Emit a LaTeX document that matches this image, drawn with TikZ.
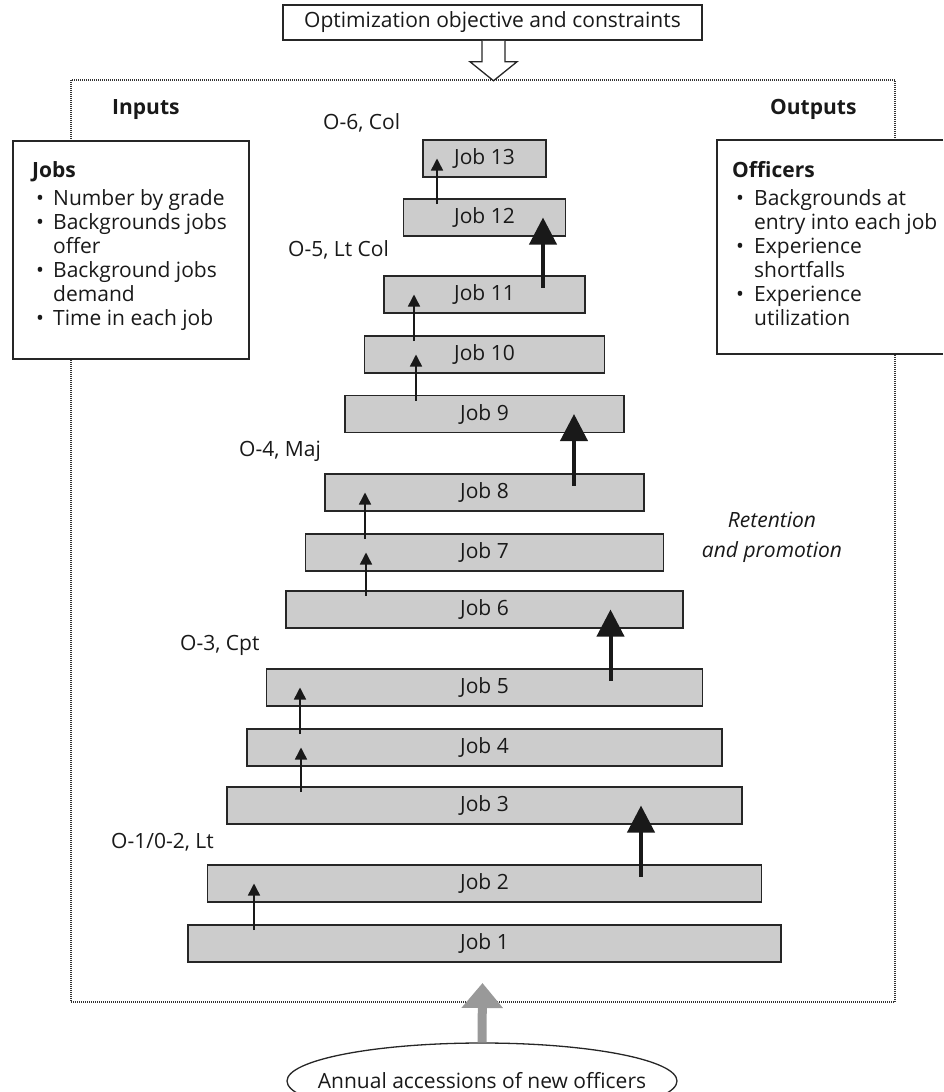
\documentclass[tikz,border=0pt]{standalone}
\usepackage{fontspec}
\setmainfont{Open Sans}
\usetikzlibrary{arrows.meta,shapes.geometric,calc}
\newcommand\dgsize{\fontsize{21}{24}\selectfont}
\newcommand\bigbul{•}
\begin{document}
\begin{tikzpicture}[x=1pt,y=-1pt,
  font=\dgsize,
  every node/.style={text=black!90},
  jobbox/.style={draw=black!85, line width=1.6pt, fill=black!20, minimum height=37pt, inner sep=0pt},
  grade/.style={anchor=base west, inner sep=0pt, font=\dgsize},
  head/.style={anchor=base west, inner sep=0pt, font=\dgsize\bfseries},
  thinarrow/.style={draw=black!90, line width=1.5pt, -{Triangle[length=12pt,width=12pt]}},
  thickarrow/.style={draw=black!90, line width=4pt, -{Triangle[length=27pt,width=27pt]}},
  panel/.style={draw=black!85, line width=1.5pt},
  frame/.style={draw=black!80, line width=1.1pt, dash pattern=on 1pt off 1pt},
  listtext/.style={anchor=north west, align=left, inner sep=0pt, font=\dgsize},
]
\useasboundingbox (0,0) rectangle (943,1092);

% dotted frame
\draw[frame] (71,80) rectangle (895,1002);

% objective box and hollow arrow
\node[panel, fill=white, minimum width=419pt, minimum height=35pt, inner sep=0pt] (obj) at (492.5,22.5) {Optimization objective and constraints};
\draw[line width=1.3pt, draw=black!85, fill=white]
  ($(obj.south)+(-10.5,0)$) -- ++(0,21) -- ++(-12,0) -- ++(23.5,19) -- ++(23.5,-19) -- ++(-12,0) -- ++(0,-21);

% headings
\node[head] (inlabel) at (112,114.5) {Inputs};
\node[head] (outlabel) at (770,114.5) {Outputs};

% inputs box
\node[panel, fill=white, minimum width=236pt, minimum height=218pt, anchor=north west, inner sep=0pt] (inbox) at (12,140) {};
\node[listtext] (intext) at (32,161.5) {\textbf{Jobs}\\[4pt]
\hspace*{4pt}\makebox[17pt][l]{\bigbul}Number by grade\\
\hspace*{4pt}\makebox[17pt][l]{\bigbul}Backgrounds jobs\\
\hspace*{21pt}offer\\
\hspace*{4pt}\makebox[17pt][l]{\bigbul}Background jobs\\
\hspace*{21pt}demand\\
\hspace*{4pt}\makebox[17pt][l]{\bigbul}Time in each job};

% outputs box (open to the right edge)
\fill[white] (717,140) rectangle (943,354);
\draw[panel] (943,140) -| (717,354) -- (943,354);
\node[listtext] (outtext) at (732,161.5) {\textbf{Officers}\\[4pt]
\hspace*{4pt}\makebox[18pt][l]{\bigbul}Backgrounds at\\
\hspace*{22pt}entry into each job\\
\hspace*{4pt}\makebox[18pt][l]{\bigbul}Experience\\
\hspace*{22pt}shortfalls\\
\hspace*{4pt}\makebox[18pt][l]{\bigbul}Experience\\
\hspace*{22pt}utilization};

% job boxes
\foreach \k/\y in {1/943.5,2/883.5,3/805.5,4/747.5,5/687.5,6/609.5,7/552.5,8/492.5,9/414,10/354.5,11/294.5,12/217.5,13/158.5}{
  \pgfmathsetmacro\w{593-39.2*(\k-1)}
  \node[jobbox, minimum width=\w pt] (j\k) at (484.5,\y) {Job \k};
}

% grade labels
\node[grade] (g6) at (323,129.5) {O-6, Col};
\node[grade] (g5) at (288,256.5) {O-5, Lt Col};
\node[grade] (g4) at (239,456.5) {O-4, Maj};
\node[grade] (g3) at (180,650.5) {O-3, Cpt};
\node[grade] (g1) at (111,848.5) {O-1/0-2, Lt};

% thin arrows (retention within grade)
\foreach \x/\a/\b in {254/1/2,301/3/4,300/4/5,366/6/7,365/7/8,416/9/10,414/10/11,437/12/13}{
  \coordinate (tx) at (\x,0);
  \draw[thinarrow] ($(j\a.north -| tx)+(0,6)$) -- (j\b.center -| tx);
}

% thick arrows (promotion)
\foreach \x/\a/\b in {641/2/3,610.5/5/6,574/8/9,543/11/12}{
  \coordinate (bx) at (\x,0);
  \draw[thickarrow] ($(j\a.center -| bx)+(0,-7)$) -- (j\b.center -| bx);
}

% retention and promotion
\node[align=center, anchor=north, inner sep=0pt, font=\dgsize\itshape] (ret) at (772,512) {Retention\\[6pt]and promotion};

% accessions
\node[draw=black!85, line width=1.3pt, ellipse, minimum width=390pt, minimum height=76pt, inner sep=0pt] (acc) at (482,1081) {\makebox[0pt]{Annual accessions of new officers}};
\coordinate (acctip) at (482.5,983);
\draw[line width=9pt, draw=black!40, -{Triangle[length=25pt,width=40pt]}] (acc.north) -- (acctip);
\end{tikzpicture}
\end{document}
